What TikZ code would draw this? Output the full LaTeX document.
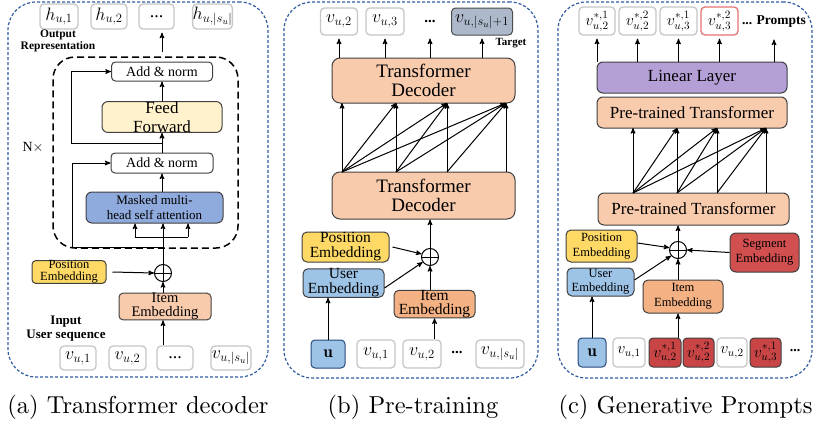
\RequirePackage{fix-cm}
\documentclass[tikz,border=0pt]{standalone}
\usepackage{fontspec}
\newfontfamily\tnr{Liberation Serif}
\newfontfamily\capfont{lmroman10-regular}[Extension=.otf]
\usetikzlibrary{positioning, arrows}
\newcommand\fsz[2]{\fontsize{#1}{#2}\selectfont}
\definecolor{frameblue}{HTML}{2E5C9E}
\definecolor{posyellow}{HTML}{FFD966}
\definecolor{itemlight}{HTML}{F8CBAD}
\definecolor{itemorange}{HTML}{F4B183}
\definecolor{decsalmon}{HTML}{F8CBAD}
\definecolor{ffyellow}{HTML}{FFF2CC}
\definecolor{mhsablue}{HTML}{8FAADC}
\definecolor{userblue}{HTML}{9DC3E6}
\definecolor{targetgray}{HTML}{ADB9CA}
\definecolor{linpurple}{HTML}{B4A0D6}
\definecolor{segred}{HTML}{D14F4F}
\definecolor{promptred}{HTML}{C94545}
\definecolor{redline}{HTML}{E57373}
\tikzset{
	->, % every connector is directed
	>=stealth', % bold arrow heads
	frame/.style={draw=frameblue, dash pattern=on 3pt off 2pt, line width=1.2pt, rounded corners=28pt}, % one panel
	inner/.style={draw=black, dash pattern=on 7pt off 4pt, line width=1.5pt, rounded corners=22pt}, % the N times block
	block/.style={draw=black!75, line width=1pt, rounded corners=4pt, align=center, inner sep=0pt}, % coloured layer
	token/.style={draw=gray!45, line width=1.3pt, rounded corners=4pt, fill=white, inner sep=0pt, font=\fsz{18}{18}}, % sequence item
	ctoken/.style={token, font=\fsz{16}{16}}, % smaller item in panel (c)
	ublock/.style={draw=frameblue!80!black, line width=1pt, rounded corners=4pt, fill=userblue, inner sep=0pt, font=\fsz{17}{17}}, % the user
	note/.style={inner sep=0pt, align=center}, % free text
	caption/.style={inner sep=0pt, font=\capfont\fsz{24.5}{24.5}}, % panel caption
	oplus/.style={circle, draw, line width=1pt, minimum size=17pt, inner sep=0pt,
		path picture={\draw[-, line width=0.8pt] (path picture bounding box.north) -- (path picture bounding box.south)
			(path picture bounding box.west) -- (path picture bounding box.east);}},
}

\begin{document}
\begin{tikzpicture}[x=1pt, y=-1pt, line width=1pt]
\useasboundingbox (0,0) rectangle (814,426);

% (a) transformer decoder
\node[frame, minimum width=260pt, minimum height=375pt] (fa) at (138,189.5) {};
\node[token, minimum width=38pt, minimum height=25pt] (ha1) at (59,16.5) {$h_{u,1}$};
\node[token, minimum width=36pt, minimum height=25pt] (ha2) at (109,16.5) {$h_{u,2}$};
\node[token, minimum width=35pt, minimum height=25pt] (had) at (156.5,16.5) {\tnr ...};
\node[token, minimum width=39pt, minimum height=25pt] (han) at (212.5,16.5) {$h_{u,|s_u|}$};
\node[note, font=\tnr\bfseries\fsz{11.5}{12}] (outl) at (58,41) {Output\\Representation};
\node[inner, minimum width=185pt, minimum height=191pt] (blk) at (145.5,152.5) {};
\node[note, font=\tnr\fsz{14}{14}] (nx) at (33,147) {N$\times$};
\node[block, fill=white, minimum width=101pt, minimum height=19pt, font=\tnr\fsz{14}{14}] (addT) at (162,71.5) {Add \& norm};
\node[block, fill=ffyellow, minimum width=120pt, minimum height=30pt, rounded corners=6pt, font=\tnr\fsz{17}{19}] (ff) at (162,117) {Feed\\Forward};
\node[block, fill=white, minimum width=102pt, minimum height=20pt, font=\tnr\fsz{14}{14}] (addB) at (162,163) {Add \& norm};
\node[block, fill=mhsablue, minimum width=137pt, minimum height=31pt, rounded corners=6pt, font=\tnr\fsz{13}{15}] (mhsa) at (154.5,207.5) {Masked multi-\\head self attention};
\node[oplus] (opa) at (163,273) {};
\node[block, fill=posyellow, minimum width=74pt, minimum height=22pt, font=\tnr\fsz{12.5}{12}] (posA) at (69,272) {Position\\Embedding};
\node[block, fill=itemlight, minimum width=92pt, minimum height=25pt, font=\tnr\fsz{14.5}{14}] (itemA) at (165,306.5) {Item\\Embedding};
\node[note, font=\tnr\bfseries\fsz{13}{14}] (inl) at (66,329) {Input\\User sequence};
\node[token, minimum width=36pt, minimum height=24pt] (va1) at (78,358) {$v_{u,1}$};
\node[token, minimum width=37pt, minimum height=24pt] (va2) at (127.5,358) {$v_{u,2}$};
\node[token, minimum width=36pt, minimum height=24pt] (vad) at (175,358) {\tnr ...};
\node[token, minimum width=40pt, minimum height=24pt] (van) at (231,358) {$v_{u,|s_u|}$};

\coordinate (ra) at (163,143);
\coordinate (rb) at (163,247);
\coordinate (sa) at (135,237);
\coordinate (sb) at (188,237);
\draw (vad.north -| opa) -- (itemA.south -| opa);
\draw (itemA.north -| opa) -- (opa.south);
\draw ([xshift=6pt]posA.east) -- (opa.west);
\draw (opa.north) -- (mhsa.south -| opa);
\draw[-] (sa) -- (sb);
\draw (sa) -- (sa |- mhsa.south);
\draw (sb) -- (sb |- mhsa.south);
\draw (rb) -- (72,247) |- (addB.west);
\draw (addB.south |- mhsa.north) -- (addB.south);
\draw (addB.north) -- (ff.south);
\draw (ra) -- (71,143) |- (addT.west);
\draw (ff.north) -- (addT.south);
\draw[shorten >=3pt] (blk.north -| addT) ++(0,-4) -- (had.south -| addT);

% (b) pre-training
\node[frame, minimum width=254pt, minimum height=376pt] (fb) at (411,190) {};
\node[token, minimum width=37pt, minimum height=27pt] (bo2) at (339,21.5) {$v_{u,2}$};
\node[token, minimum width=38pt, minimum height=27pt] (bo3) at (385,21.5) {$v_{u,3}$};
\node[note, minimum height=27pt, font=\tnr\bfseries\fsz{15}{15}] (bod) at (430,21.5) {...};
\node[token, fill=targetgray, draw=black!70, line width=1pt, minimum width=61pt, minimum height=27pt] (bot) at (482,21.5) {$v_{u,|s_u|+1}$};
\node[note, font=\tnr\bfseries\fsz{11}{11}] (tgt) at (511,43) {Target};
\node[block, fill=decsalmon, minimum width=183pt, minimum height=45pt, rounded corners=8pt, font=\tnr\fsz{19}{19}] (decU) at (423.5,80.5) {Transformer\\Decoder};
\node[block, fill=decsalmon, minimum width=183pt, minimum height=47pt, rounded corners=8pt, font=\tnr\fsz{19}{19}] (decL) at (423.5,195.5) {Transformer\\Decoder};
\node[oplus] (opb) at (430,257) {};
\node[block, fill=posyellow, minimum width=87pt, minimum height=30pt, rounded corners=5pt, font=\tnr\fsz{15.5}{15}] (posB) at (345.5,247) {Position\\Embedding};
\node[block, fill=userblue, minimum width=81pt, minimum height=28pt, rounded corners=5pt, font=\tnr\fsz{15.5}{15}] (userB) at (343.5,283) {User\\Embedding};
\node[block, fill=itemorange, minimum width=81pt, minimum height=26pt, rounded corners=5pt, font=\tnr\fsz{15.5}{14}] (itemB) at (434.5,304) {Item\\Embedding};
\node[ublock, minimum width=34pt, minimum height=28pt] (bu) at (328,354) {$\mathbf{u}$};
\node[token, minimum width=38pt, minimum height=28pt] (bi1) at (376,354) {$v_{u,1}$};
\node[token, minimum width=38pt, minimum height=28pt] (bi2) at (422,354) {$v_{u,2}$};
\node[note, font=\tnr\bfseries\fsz{15}{15}] (bid) at (457,352) {...};
\node[token, minimum width=48pt, minimum height=28pt] (bin) at (500,354) {$v_{u,|s_u|}$};

\foreach \i/\x in {1/342, 2/396, 3/447, 4/506} {
	\coordinate (bl\i) at (\x,172);
	\coordinate (bh\i) at (\x,103);
}
\foreach \i in {1,...,4}
	\foreach \j in {\i,...,4}
		\draw (bl\i) -- (bh\j);
\draw[shorten >=3pt] (decU.north -| bo2) -- (bo2.south);
\draw[shorten >=3pt] (decU.north -| bo3) -- (bo3.south);
\draw[shorten >=3pt] (decU.north -| bod) -- (bod.south);
\draw[shorten >=3pt] (decU.north -| bot) -- (bot.south);
\draw (opb.north) -- (decL.south -| opb);
\draw ([xshift=3pt]posB.east) -- (opb.160);
\draw ([yshift=-5pt]userB.east) -- (opb.215);
\draw (itemB.north -| opb) -- (opb.south);
\draw (bu.north) -- (bu.north |- userB.south);
\draw (bi2.north -| itemB) -- (itemB.south);

% (c) generative prompts
\node[frame, minimum width=254pt, minimum height=376pt] (fc) at (685,190) {};
\node[ctoken, minimum width=36pt, minimum height=28pt] (co1) at (597,21) {$v^{*,1}_{u,2}$};
\node[ctoken, minimum width=37pt, minimum height=28pt] (co2) at (637.5,21) {$v^{*,2}_{u,2}$};
\node[ctoken, minimum width=37pt, minimum height=28pt] (co3) at (678.5,21) {$v^{*,1}_{u,3}$};
\node[ctoken, draw=redline, minimum width=37pt, minimum height=28pt] (co4) at (719.5,21) {$v^{*,2}_{u,3}$};
\node[note, minimum height=28pt, font=\tnr\bfseries\fsz{13.5}{14}] (cpr) at (774,22) {... Prompts};
\node[block, fill=linpurple, minimum width=190pt, minimum height=31pt, rounded corners=6pt, font=\tnr\fsz{17}{17}] (lin) at (692,77.5) {Linear Layer};
\node[block, fill=decsalmon, minimum width=190pt, minimum height=31pt, rounded corners=6pt, font=\tnr\fsz{17}{17}] (ptU) at (692,112.5) {Pre-trained Transformer};
\node[block, fill=decsalmon, minimum width=191pt, minimum height=32pt, rounded corners=6pt, font=\tnr\fsz{17}{17}] (ptL) at (693.5,209) {Pre-trained Transformer};
\node[oplus] (opc) at (678,250) {};
\node[block, fill=posyellow, minimum width=71pt, minimum height=32pt, rounded corners=5pt, font=\tnr\fsz{12.5}{15}] (posC) at (601.5,246) {Position\\Embedding};
\node[block, fill=segred, minimum width=69pt, minimum height=39pt, rounded corners=6pt, font=\tnr\fsz{12.5}{15}] (segC) at (764.5,252.5) {Segment\\Embedding};
\node[block, fill=userblue, minimum width=67pt, minimum height=28pt, rounded corners=5pt, font=\tnr\fsz{12.5}{14}] (userC) at (600.5,282) {User\\Embedding};
\node[block, fill=itemorange, minimum width=80pt, minimum height=33pt, rounded corners=5pt, font=\tnr\fsz{12.5}{15}] (itemC) at (683,296.5) {Item\\Embedding};
\node[ublock, minimum width=28pt, minimum height=29pt] (cu) at (592,352.5) {$\mathbf{u}$};
\node[ctoken, minimum width=32pt, minimum height=29pt] (cv1) at (629,352.5) {$v_{u,1}$};
\node[ctoken, fill=promptred, draw=black!75, line width=1pt, minimum width=32pt, minimum height=29pt] (cr1) at (665,352.5) {$v^{*,1}_{u,2}$};
\node[ctoken, fill=promptred, draw=black!75, line width=1pt, minimum width=31pt, minimum height=29pt] (cr2) at (698.5,352.5) {$v^{*,2}_{u,2}$};
\node[ctoken, minimum width=30pt, minimum height=29pt] (cv2) at (732,352.5) {$v_{u,2}$};
\node[ctoken, fill=promptred, draw=black!75, line width=1pt, minimum width=31pt, minimum height=29pt] (cr3) at (765.5,352.5) {$v^{*,1}_{u,3}$};
\node[note, font=\tnr\bfseries\fsz{14}{14}] (cvd) at (795,351) {...};

\foreach \i/\x in {1/633, 2/677, 3/717, 4/766} {
	\coordinate (cl\i) at (\x,193);
	\coordinate (ch\i) at (\x,128);
}
\foreach \i in {1,...,4}
	\foreach \j in {\i,...,4}
		\draw (cl\i) -- (ch\j);
\foreach \n in {co1, co2, co3, co4, cpr}
	\draw[shorten >=3pt] (lin.north -| \n) -- (\n.south);
\draw (opc.north) -- (ptL.south -| opc);
\draw ([yshift=3pt]posC.east) -- (opc.165);
\draw ([yshift=2pt]userC.east) -- (opc.220);
\draw (segC.west) -- (opc.east);
\draw (itemC.north -| opc) -- (opc.south);
\draw (cu.north) -- (cu.north |- userC.south);
\draw (cr1.north -| opc) -- (itemC.south -| opc);

% captions
\node[caption] (capa) at (138,407) {(a) Transformer decoder};
\node[caption] (capb) at (413,407) {(b) Pre-training};
\node[caption, anchor=east] (capc) at (813,407) {(c) Generative Prompts};
\end{tikzpicture}
\end{document}
